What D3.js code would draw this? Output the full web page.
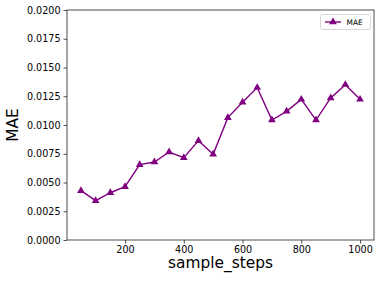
<!DOCTYPE html>
<html>
<head>
<meta charset="utf-8">
<script src="https://cdn.jsdelivr.net/npm/d3@7"></script>
<style>
  body { margin: 0; background: #fff; }
  svg { display: block; font-family: "DejaVu Sans", sans-serif; }
</style>
</head>
<body>
<div id="chart"></div>
<script>
const FRAME_WIDTH = 381;
const FRAME_HEIGHT = 281;
const MARGINS = {left: 67, right: 7, top: 10, bottom: 41};

const VIS_WIDTH = FRAME_WIDTH - MARGINS.left - MARGINS.right;
const VIS_HEIGHT = FRAME_HEIGHT - MARGINS.top - MARGINS.bottom;

// data
const STEPS = [50, 100, 150, 200, 250, 300, 350, 400, 450, 500,
               550, 600, 650, 700, 750, 800, 850, 900, 950, 1000];
const MAE = [0.00429, 0.00342, 0.00411, 0.00464, 0.00655, 0.00678, 0.00765, 0.00716, 0.00864, 0.00745,
             0.01064, 0.01197, 0.01325, 0.01043, 0.01119, 0.01223, 0.01043, 0.01235, 0.01351, 0.01223];
const X_TICKS = [200, 400, 600, 800, 1000];
const Y_TICKS = [0, 0.0025, 0.005, 0.0075, 0.01, 0.0125, 0.015, 0.0175, 0.02];

const LINE_COLOR = "#800080";

const FRAME = d3.select("#chart")
                .append("svg")
                  .attr("width", FRAME_WIDTH)
                  .attr("height", FRAME_HEIGHT);

const X_SCALE = d3.scaleLinear()
                  .domain([2.5, 1047.5])
                  .range([0, VIS_WIDTH]);

const Y_SCALE = d3.scaleLinear()
                  .domain([0, 0.02])
                  .range([VIS_HEIGHT, 0]);

const G = FRAME.append("g")
               .attr("transform", "translate(" + MARGINS.left + "," + MARGINS.top + ")");

// x axis
const xAxis = G.append("g")
               .attr("transform", "translate(0," + VIS_HEIGHT + ")")
               .call(d3.axisBottom(X_SCALE).tickValues(X_TICKS).tickSize(3.5).tickPadding(3)
                       .tickFormat(d3.format("d")));

// y axis
const yAxis = G.append("g")
               .call(d3.axisLeft(Y_SCALE).tickValues(Y_TICKS).tickSize(3.5).tickPadding(3)
                       .tickFormat(d3.format(".4f")));

[xAxis, yAxis].forEach((ax) => {
  ax.select(".domain").remove();
  ax.selectAll(".tick line").attr("stroke", "#222").attr("stroke-width", 0.8);
  ax.selectAll(".tick text")
    .attr("fill", "#000")
    .attr("font-size", "9.6px")
    .attr("font-family", "DejaVu Sans, sans-serif");
});

// frame (spines)
G.append("rect")
  .attr("x", 0)
  .attr("y", 0)
  .attr("width", VIS_WIDTH)
  .attr("height", VIS_HEIGHT)
  .attr("fill", "none")
  .attr("stroke", "#222")
  .attr("stroke-width", 0.8);

// the line
const line = d3.line()
               .x((d, i) => X_SCALE(STEPS[i]))
               .y((d) => Y_SCALE(d));

G.append("path")
  .datum(MAE)
  .attr("d", line)
  .attr("fill", "none")
  .attr("stroke", LINE_COLOR)
  .attr("stroke-width", 1.4);

const triangle = d3.symbol().type(d3.symbolTriangle).size(26);

G.selectAll(".marker")
  .data(MAE)
  .enter()
  .append("path")
    .attr("class", "marker")
    .attr("d", triangle)
    .attr("transform", (d, i) => "translate(" + X_SCALE(STEPS[i]) + "," + Y_SCALE(d) + ")")
    .attr("fill", LINE_COLOR);

// axis labels
FRAME.append("text")
  .attr("x", MARGINS.left + VIS_WIDTH / 2)
  .attr("y", 268)
  .attr("text-anchor", "middle")
  .attr("font-size", "15.4px")
  .text("sample_steps");

FRAME.append("text")
  .attr("transform", "translate(18," + (MARGINS.top + VIS_HEIGHT / 2) + ") rotate(-90)")
  .attr("text-anchor", "middle")
  .attr("font-size", "15.4px")
  .text("MAE");

// legend
const LEGEND = FRAME.append("g")
                    .attr("transform", "translate(320.5,14.5)");

LEGEND.append("rect")
  .attr("width", 50)
  .attr("height", 15)
  .attr("rx", 2)
  .attr("fill", "#fff")
  .attr("stroke", "#ccc")
  .attr("stroke-width", 0.8);

LEGEND.append("line")
  .attr("x1", 4.5)
  .attr("x2", 20.5)
  .attr("y1", 7.5)
  .attr("y2", 7.5)
  .attr("stroke", LINE_COLOR)
  .attr("stroke-width", 1.4);

LEGEND.append("path")
  .attr("d", triangle)
  .attr("transform", "translate(12.5,7.5)")
  .attr("fill", LINE_COLOR);

LEGEND.append("text")
  .attr("x", 26)
  .attr("y", 10.3)
  .attr("font-size", "7.4px")
  .text("MAE");
</script>
</body>
</html>
